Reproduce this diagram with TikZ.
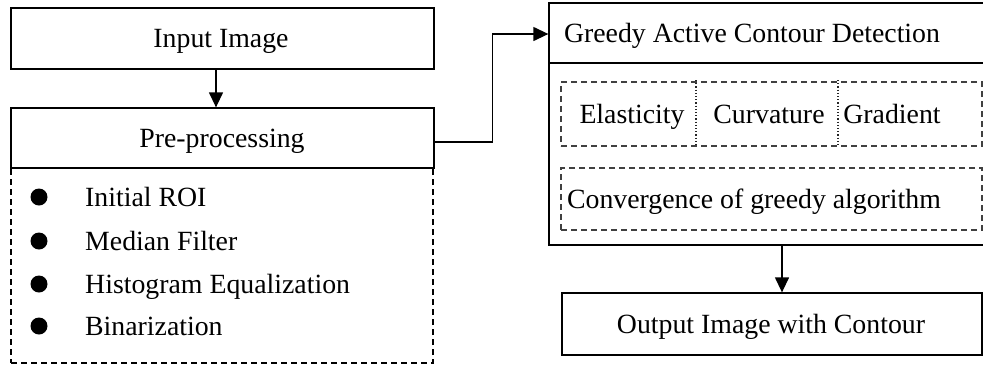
\documentclass[tikz,border=0pt]{standalone}
\usepackage{fontspec}
\setmainfont{Liberation Serif}
\usetikzlibrary{arrows.meta}
\begin{document}
\begin{tikzpicture}[x=1pt,y=-1pt,
  solidbox/.style={draw, line width=1.3pt, rectangle, inner sep=0pt},
  dashbox/.style={draw, line width=1.1pt, rectangle, inner sep=0pt, dash pattern=on 6pt off 4pt},
  innerbox/.style={draw=black!75, line width=1.1pt, rectangle, inner sep=0pt, dash pattern=on 6pt off 4pt},
  txt/.style={inner sep=0pt, text height=24pt, text depth=5pt, font=\fontsize{27.8}{32}\selectfont},
  bullet/.style={circle, fill=black, inner sep=0pt, minimum size=17pt},
  arr/.style={line width=1.3pt, -{Triangle[length=15pt,width=14pt]}},
  conn/.style={line width=1.3pt}
]
\useasboundingbox (0,0) rectangle (983,365);

% Input Image
\node[solidbox, minimum width=423pt, minimum height=61pt] (input) at (222.5,38.5) {};
\node[txt] (inputtxt) at (221,38) {Input Image};

% Pre-processing
\node[solidbox, minimum width=423pt, minimum height=60pt] (pre) at (222.5,138) {};
\node[txt] (pretxt) at (222,137.5) {Pre-processing};
\node[dashbox, minimum width=422pt, minimum height=195pt] (prelist) at (222,265.5) {};

\node[bullet] (b1) at (39,197) {};
\node[bullet] (b2) at (39,241) {};
\node[bullet] (b3) at (39,284) {};
\node[bullet] (b4) at (39,326) {};
\node[txt, anchor=west] (t1) at (85,197) {Initial ROI};
\node[txt, anchor=west] (t2) at (85,241) {Median Filter};
\node[txt, anchor=west] (t3) at (85,284) {Histogram Equalization};
\node[txt, anchor=west] (t4) at (85,326) {Binarization};

% Greedy Active Contour Detection
\node[solidbox, minimum width=446pt, minimum height=242pt] (gbox) at (772,124) {};
\coordinate (hdr) at (0,63);
\draw[conn] (gbox.west |- hdr) -- (gbox.east |- hdr);
\node[txt] (gtxt) at (752,33) {Greedy Active Contour Detection};

\node[innerbox, minimum width=421pt, minimum height=64pt] (forces) at (771.5,114) {};
\draw[black!85, line width=1.2pt, dotted] (696,80) -- (696,146);
\draw[black!85, line width=1.2pt, dotted] (838,80) -- (838,146);
\node[txt] (el) at (632,114) {Elasticity};
\node[txt] (cu) at (769,114) {Curvature};
\node[txt] (gr) at (892,114) {Gradient};

\node[innerbox, minimum width=421pt, minimum height=62pt] (conv) at (771.5,199) {};
\node[txt] (convtxt) at (754,199) {Convergence of greedy algorithm};

% Output
\node[solidbox, minimum width=420pt, minimum height=62pt] (out) at (772,324) {};
\node[txt] (outtxt) at (771,324) {Output Image with Contour};

% connectors
\draw[arr] ([xshift=-6.5pt]input.south) -- ([xshift=-6.5pt]pre.north);
\coordinate (gin) at (0,34);
\draw[arr] ([yshift=-4pt]pre.east) -- ++(58,0) |- (gbox.west |- gin);
\draw[arr] ([xshift=10pt]gbox.south) -- ([xshift=10pt]out.north);
\end{tikzpicture}
\end{document}
